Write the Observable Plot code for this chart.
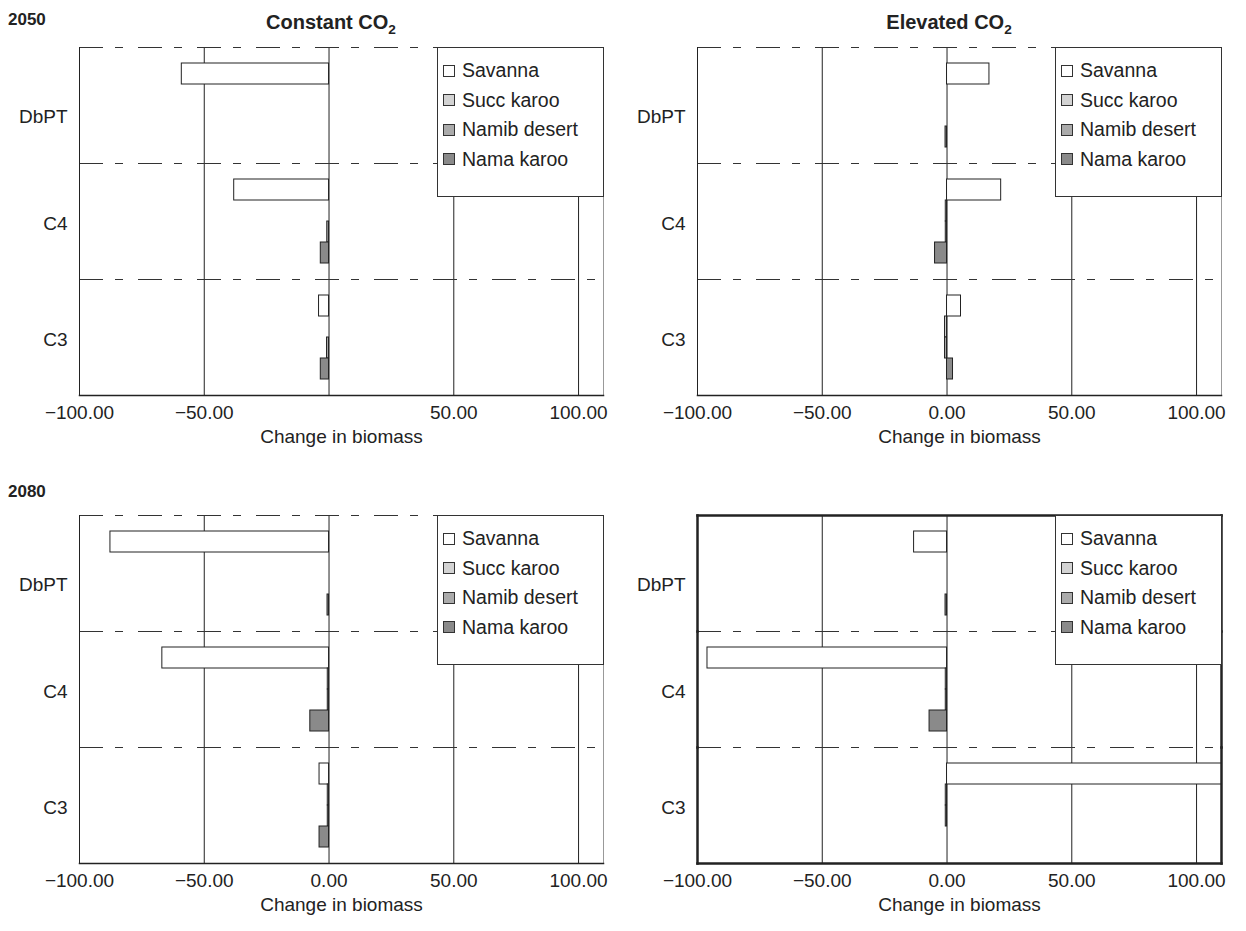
<!DOCTYPE html>
<html><head><meta charset="utf-8">
<script src="https://cdn.jsdelivr.net/npm/d3@7"></script>
<script src="https://cdn.jsdelivr.net/npm/@observablehq/plot@0.6"></script>
<style>
body{margin:0;background:#fff;font-family:"Liberation Sans",Arial,Helvetica,sans-serif;color:#222}
#page{position:relative;width:1246px;height:931px;overflow:hidden;background:#fff}
.panel{position:absolute}
.title{position:absolute;font-weight:bold;line-height:20px;white-space:nowrap}
.title sub{font-size:0.68em;vertical-align:-5px;line-height:0}
.legend{position:absolute;background:#fff;border:1px solid #333;box-sizing:border-box;font-size:19.5px;padding-top:8px}
.legend .item{height:29.5px;display:flex;align-items:center;padding-left:5px;white-space:nowrap}
.legend .sw{width:10px;height:10px;border:1px solid #333;margin-right:7px;flex:none}
</style></head>
<body><div id="page"></div>
<script>
// ---- data ----
const groups = ["DbPT", "C4", "C3"];
const series = ["Savanna", "Succ karoo", "Namib desert", "Nama karoo"];
const seriesFill = ["#ffffff", "#d3d3d3", "#ababab", "#8a8a8a"];
const xTicks = [-100, -50, 0, 50, 100];
const gridValues = [-50, 0, 50, 100];
const xDomain = [-100, 110];
// values per group (DbPT, C4, C3), per series (Savanna, Succ karoo, Namib desert, Nama karoo)
const change2050Constant = [[-59, 0, 0, 0], [-38, 0, -0.7, -3.3], [-4, 0, -0.8, -3.3]];
const change2050Elevated = [[17, 0, 0, -0.6], [21.7, -0.5, -0.5, -4.8], [5.6, -0.8, -0.8, 2.4]];
const change2080Constant = [[-87.6, 0, 0, -0.6], [-66.8, -0.5, -0.5, -7.5], [-3.8, -0.5, -0.5, -3.8]];
const change2080Elevated = [[-13.2, 0, 0, -0.6], [-96, -0.5, -0.5, -7], [115, -0.5, -0.5, 0]];
const rowTitles = ["2050", "2080"];
const colTitles = ["Constant CO", "Elevated CO"];

function rows(values) {
  return groups.flatMap((g, gi) => series.map((s, si) => ({group: g, series: s, value: values[gi][si]})));
}

function panel(values, {hideZero = false, heavy = false} = {}) {
  const fmt = d => (hideZero && d === 0) ? "" : (d < 0 ? "\u2212" : "") + Math.abs(d).toFixed(2);
  const edge = heavy ? 2.5 : 1;
  const labelOpts = {fy: d => d, text: d => d, frameAnchor: "left", textAnchor: "end", dx: -12, fontSize: 19, fill: "#222"};
  return Plot.plot({
    width: 620, height: 445, marginTop: 47, marginLeft: 79, marginRight: 17, marginBottom: 50,
    style: {fontFamily: '"Liberation Sans", Arial, Helvetica, sans-serif', fontSize: "19px", color: "#222", background: "transparent", overflow: "visible"},
    x: {domain: xDomain, ticks: xTicks, tickFormat: fmt, tickSize: 0, tickPadding: 10,
        label: "Change in biomass", labelAnchor: "center", labelArrow: "none", labelOffset: 47},
    y: {domain: series, paddingInner: 0, paddingOuter: 0.75, axis: null},
    fy: {domain: groups, padding: 0, axis: null},
    color: {domain: series, range: seriesFill},
    marks: [
      Plot.ruleX(gridValues, {stroke: "#222", strokeWidth: 1}),
      Plot.frame({anchor: "top", stroke: "#333", strokeDasharray: "23,13,7,16"}),
      Plot.barX(rows(values).filter(d => d.value !== 0), {x: "value", y: "series", fy: "group", fill: "series", stroke: "#222", strokeWidth: 1, clip: true}),
      Plot.frame({anchor: "left", stroke: "#222", strokeWidth: edge}),
      Plot.frame({anchor: "right", stroke: heavy ? "#222" : "#999", strokeWidth: edge}),
      Plot.frame({anchor: "bottom", stroke: "#222", strokeWidth: heavy ? 2.5 : 1.5, fy: () => "C3"}),
      ...(heavy ? [Plot.frame({anchor: "top", stroke: "#222", strokeWidth: 2.5, fy: () => "DbPT"})] : []),
      Plot.text(groups.slice(0, 1), {...labelOpts, dy: 11}),
      Plot.text(groups.slice(1), {...labelOpts, dy: 2})
    ]
  });
}

function legendBox(left, top, width, height) {
  const div = document.createElement("div");
  div.className = "legend";
  Object.assign(div.style, {left: left + "px", top: top + "px", width: width + "px", height: height + "px"});
  series.forEach((s, i) => {
    const item = document.createElement("div");
    item.className = "item";
    const sw = document.createElement("span");
    sw.className = "sw";
    sw.style.background = seriesFill[i];
    item.appendChild(sw);
    item.appendChild(document.createTextNode(s));
    div.appendChild(item);
  });
  return div;
}

function title(html, style) {
  const d = document.createElement("div");
  d.className = "title";
  d.innerHTML = html;
  Object.assign(d.style, style);
  return d;
}

const page = document.getElementById("page");
const panels = [
  {values: change2050Constant, left: 0, top: 0, opts: {hideZero: true}},
  {values: change2050Elevated, left: 618, top: 0, opts: {}},
  {values: change2080Constant, left: 0, top: 468, opts: {}},
  {values: change2080Elevated, left: 618, top: 468, opts: {heavy: true}}
];
panels.forEach(p => {
  const wrap = document.createElement("div");
  wrap.className = "panel";
  wrap.style.left = p.left + "px";
  wrap.style.top = p.top + "px";
  wrap.appendChild(panel(p.values, p.opts));
  page.appendChild(wrap);
  page.appendChild(legendBox(p.left + 437, p.top + 47, 167, 150));
});
page.appendChild(title(rowTitles[0], {left: "8px", top: "10px", fontSize: "17px"}));
page.appendChild(title(rowTitles[1], {left: "8px", top: "482px", fontSize: "17px"}));
page.appendChild(title(colTitles[0] + "<sub>2</sub>", {left: "331px", top: "12px", fontSize: "20px", transform: "translateX(-50%)"}));
page.appendChild(title(colTitles[1] + "<sub>2</sub>", {left: "949px", top: "12px", fontSize: "20px", transform: "translateX(-50%)"}));
</script>
</body></html>
